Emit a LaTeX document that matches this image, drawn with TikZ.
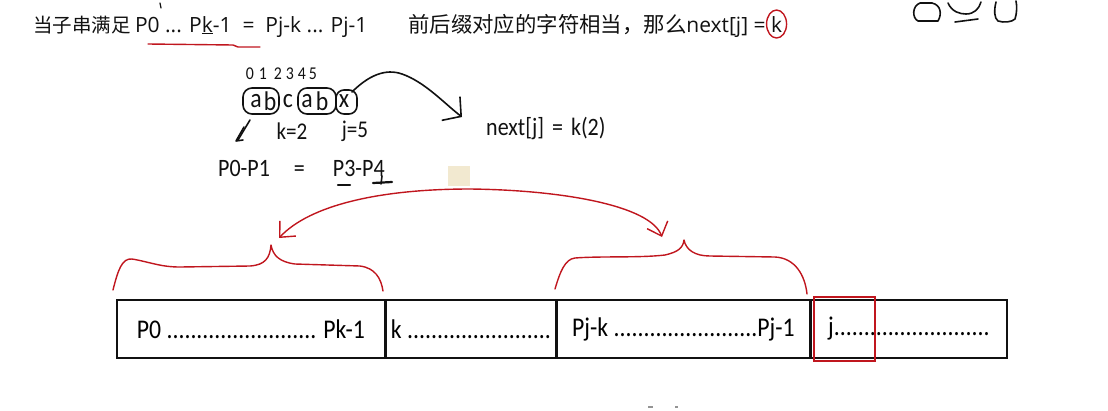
\documentclass[tikz,border=0pt]{standalone}
\usepackage{fontspec}
\setmainfont{Carlito}[FakeStretch=0.88]
\newfontfamily\cjk{Noto Sans CJK SC}
\newfontfamily\latin{Open Sans}
\usetikzlibrary{positioning,arrows.meta}
\definecolor{Pen}{HTML}{C0161E}
\definecolor{Ink}{HTML}{111111}
\definecolor{Smudge}{HTML}{EFE3C4}

\begin{document}
\begin{tikzpicture}[x=1pt,y=-1pt,
  cell/.style={draw=Ink,line width=2pt,minimum height=58pt,inner sep=0pt,outer sep=0pt,font=\fontsize{27}{30}\selectfont},
  topline/.style={inner sep=0pt,font=\cjk\fontsize{19.5}{22}\selectfont,text=Ink},
  label/.style={inner sep=0pt,font=\fontsize{25}{28}\selectfont,text=Ink},
  hand/.style={inner sep=0pt,font=\fontsize{24}{26}\selectfont,text=Ink},
  redpen/.style={Pen,line width=1.4pt,line cap=round,line join=round},
  inkpen/.style={Ink,line width=1.6pt,line cap=round,line join=round}]
\useasboundingbox (0,0) rectangle (1108,410);

% statement line
\node[topline,anchor=base west] (cond) at (33,32) {当子串满足 {\latin\fontsize{21}{24}\selectfont P0 ... P\underline{k}-1 \ = \ Pj-k ... Pj-1}};
\node[topline,anchor=base west,font=\cjk\fontsize{21.4}{24}\selectfont] (rule) at (408,32) {前后缀对应的字符相当，那么{\latin\fontsize{21}{24}\selectfont next[j] =}};
\node[topline,anchor=base west,font=\latin\fontsize{21}{24}\selectfont] (kval) at ([xshift=5pt]rule.base east) {k};
\draw[redpen] (kval.center) ellipse (10 and 14);
\draw[redpen] (148,44) -- (233,45) -- (238,47) -- (260,47);
\draw[inkpen,line width=1.2pt] (160,3) -- (161,8);

% scribbles, top right
\draw[inkpen] (920,3) .. controls (912,6) and (912,18) .. (918,21) -- (938,21) .. controls (942,14) and (941,5) .. (932,3) -- cycle;
\draw[inkpen] (948,3) .. controls (952,12) and (960,14) .. (966,14) .. controls (974,14) and (979,9) .. (981,2);
\draw[inkpen] (955,22) -- (978,19);
\draw[inkpen] (996,2) .. controls (994,10) and (994,18) .. (998,21) .. controls (1004,23) and (1012,22) .. (1015,19) .. controls (1017,13) and (1017,6) .. (1016,1);

% worked example
\foreach \dg/\px in {0/250,1/263,2/278,3/290,4/302,5/313}
  \node[hand,font=\fontsize{18}{20}\selectfont] (dig\dg) at (\px,74) {\dg};
\foreach \ch/\px [count=\i] in {a/256,b/270,c/288,a/307,b/322,x/344}
  \node[label,font=\fontsize{27}{30}\selectfont] (ch\i) at (\px,101) {\ch};
\draw[inkpen,rounded corners=9pt] (243,88) rectangle (279,114);
\draw[inkpen,rounded corners=9pt] (298,88) rectangle (336,114);
\draw[inkpen,rounded corners=8pt] (336,90) rectangle (357,114);
\draw[inkpen] (250,120) -- (238,140);
\draw[inkpen] (244,127) -- (236,141) -- (243,140);
\node[hand] (kidx) at (292,131) {k=2};
\node[hand] (jidx) at (355,131) {j=5};
\coordinate (xloop) at (352,92);
\coordinate (aim) at (462,117);
\draw[inkpen,-{Straight Barb[length=13pt,width=30pt]}] (xloop) .. controls (368,76) and (385,68) .. (402,74) .. controls (425,82) and (445,104) .. (aim);
\node[label,anchor=west] (nextk) at (486,128) {next[j]\hspace{8pt}=\hspace{8pt}k(2)};
\node[label,anchor=west] (pmatch) at (218,168) {P0-P1\hspace{24pt}=\hspace{28pt}P3-P4};
\draw[inkpen,line width=2.2pt] (338,185) -- (350,185);
\draw[inkpen,line width=2.2pt] (373,183) -- (392,182);
\draw[inkpen] (382,176) -- (381,184);
\fill[Smudge,opacity=.8] (448,166) rectangle (470,186);

% braces over prefix and suffix
\draw[redpen] (113,290) .. controls (118,270) and (122,258) .. (132,259) .. controls (150,262) and (160,267) .. (180,267) -- (250,266) .. controls (265,265) and (270,258) .. (271,245) .. controls (273,256) and (280,262) .. (295,264) -- (360,266) .. controls (375,268) and (381,278) .. (383,291);
\draw[redpen] (555,289) .. controls (560,272) and (565,259) .. (575,258) .. controls (600,256) and (640,258) .. (665,255) .. controls (678,252) and (683,248) .. (684,240) .. controls (686,250) and (695,256) .. (710,256) -- (775,257) .. controls (795,258) and (805,275) .. (807,294);
\coordinate (lhook) at (279,238);
\coordinate (rhook) at (662,237);
\draw[redpen,{Straight Barb[length=12pt,width=22pt]}-{Straight Barb[length=12pt,width=22pt]}] (lhook) .. controls (310,205) and (380,189) .. (470,189) .. controls (560,190) and (650,205) .. (rhook);

% pattern cells
\node[cell,minimum width=268pt,anchor=north west] (pre) at (117,300) {P0 ......................... Pk-1};
\node[cell,minimum width=170pt,right=1pt of pre] (mid) {k ........................};
\node[cell,minimum width=253pt,right=1pt of mid] (suf) {Pj-k ........................Pj-1};
\node[cell,minimum width=196pt,right=1pt of suf] (rest) {j..........................};
\node[draw=Pen,line width=2pt,minimum width=61pt,minimum height=64pt,inner sep=0pt,anchor=west] (jcell) at ([xshift=2pt]rest.west) {};

\fill[Ink!45] (648,406) rectangle (653,408);
\fill[Ink!45] (675,406) rectangle (678,408);
\end{tikzpicture}
\end{document}
